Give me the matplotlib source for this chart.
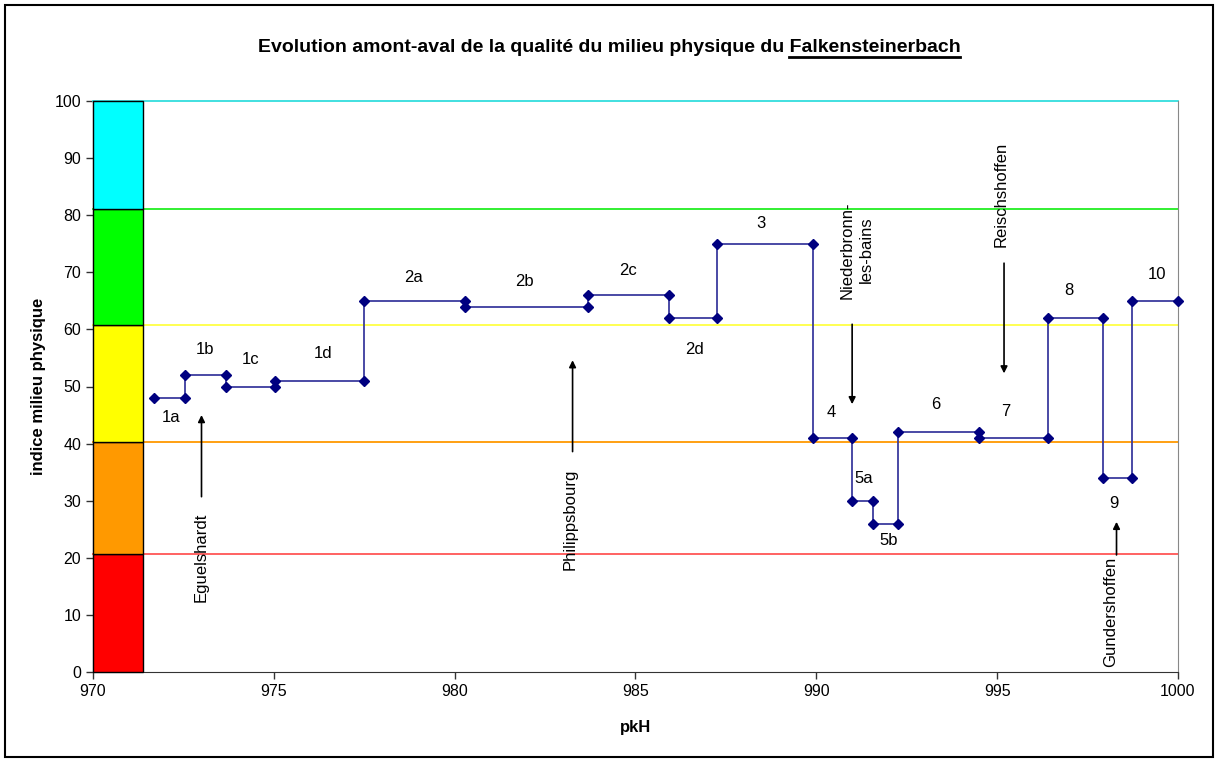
import matplotlib
matplotlib.use("Agg")
import matplotlib.pyplot as plt
from matplotlib.patches import Rectangle
from matplotlib.lines import Line2D

plt.rcParams['font.family'] = ['Liberation Sans', 'DejaVu Sans']

# Data
pk = [971.7, 972.55, 972.55, 973.68, 973.68, 975.03, 975.03, 977.5, 977.5, 980.28,
      980.28, 983.7, 983.7, 985.93, 985.93, 987.24, 987.24, 989.92, 989.92, 990.98,
      990.98, 991.56, 991.56, 992.27, 992.27, 994.5, 994.5, 996.4, 996.4, 997.92,
      997.92, 998.72, 998.72, 1000.0]
indice = [48, 48, 52, 52, 50, 50, 51, 51, 65, 65, 64, 64, 66, 66, 62, 62, 75, 75, 41, 41,
          30, 30, 26, 26, 42, 42, 41, 41, 62, 62, 34, 34, 65, 65]

class_bounds = [0, 20.6, 40.2, 60.8, 81.1, 100]
class_colors = ['#FF0000', '#FF9900', '#FFFF00', '#00FF00', '#00FFFF']
line_colors = ['#FF5555', '#FF9900', '#FFFF44', '#22EE22', '#33DDDD']

seg_labels = ['1a', '1b', '1c', '1d', '2a', '2b', '2c', '2d', '3', '4', '5a', '5b',
              '6', '7', '8', '9', '10']
seg_lx = [972.15, 973.1, 974.37, 976.35, 978.86, 981.93, 984.78, 986.63, 988.47,
          990.40, 991.32, 991.99, 993.3, 995.24, 996.99, 998.24, 999.41]
seg_ly = [44.6, 56.5, 54.8, 55.8, 69.1, 68.4, 70.4, 56.5, 78.6, 45.5, 33.9, 23.1,
          46.9, 45.7, 66.9, 29.5, 69.7]

towns = ['Eguelshardt', 'Philippsbourg', 'Niederbronn-\nles-bains', 'Reischshoffen', 'Gundershoffen']
town_tx = [972.98, 983.19, 991.12, 995.12, 998.15]
town_ty = [12.3, 17.9, 73.9, 74.4, 0.8]
town_va = ['bottom', 'bottom', 'center', 'bottom', 'bottom']
arrow_x = [973.0, 983.26, 990.99, 995.19, 998.3]
arrow_from = [30.7, 38.6, 60.9, 71.6, 20.5]
arrow_to = [45.0, 54.6, 46.9, 52.3, 26.3]

fig = plt.figure(figsize=(12.18, 7.62), dpi=100)
ax = fig.add_axes([93/1218, 90/762, (1178-93)/1218, (672-101)/762])

# outer chart border
fig.patches.append(Rectangle((5/1218, 5/762), 1208/1218, 752/762, transform=fig.transFigure,
                             fill=False, edgecolor='black', linewidth=1.5))

ax.set_xlim(970, 1000)
ax.set_ylim(0, 100)

# class lines
for b, c in zip(class_bounds[1:], line_colors):
    ax.axhline(b, color=c, linewidth=1.3, zorder=2.5, clip_on=False)

# colour scale bar
for i in range(5):
    ax.add_patch(Rectangle((970, class_bounds[i]), 1.38, class_bounds[i+1]-class_bounds[i],
                           facecolor=class_colors[i], edgecolor='black', linewidth=1.0, zorder=3,
                           clip_on=False))

ax.plot(pk, indice, color='#3B3B9E', linewidth=1.3, marker='D', markersize=5,
        markerfacecolor='#000080', markeredgecolor='#000080', zorder=4, clip_on=False)

for s, x, y in zip(seg_labels, seg_lx, seg_ly):
    ax.text(x, y, s, ha='center', va='center', fontsize=12)

for t, x, y, va, ax0, y0, y1 in zip(towns, town_tx, town_ty, town_va, arrow_x, arrow_from, arrow_to):
    ax.text(x, y, t, rotation=90, ha='center', va=va, fontsize=12,
            multialignment='center', linespacing=1.3)
    ax.annotate('', xy=(ax0, y1), xytext=(ax0, y0),
                arrowprops=dict(arrowstyle='-|>', color='black', lw=1.2,
                                mutation_scale=10, shrinkA=0, shrinkB=0))

ax.set_xticks([970, 975, 980, 985, 990, 995, 1000])
ax.set_yticks(range(0, 101, 10))
ax.tick_params(direction='out', length=5, labelsize=11.5, width=1, color='#333333')
ax.spines['top'].set_visible(False)
ax.spines['right'].set_color('#888888')
ax.spines['left'].set_color('#333333')
ax.spines['bottom'].set_color('#333333')

ax.set_xlabel('pkH', fontsize=12, fontweight='bold', labelpad=15)
ax.set_ylabel('indice milieu physique', fontsize=12, fontweight='bold', labelpad=6)

title = fig.text(609/1218, 1 - 47/762, 'Evolution amont-aval de la qualité du milieu physique du Falkensteinerbach',
                 ha='center', va='center', fontsize=14, fontweight='bold')
fig.canvas.draw()
r = fig.canvas.get_renderer()
bb = title.get_window_extent(r)
tmp = fig.text(0, 0, 'Falkensteinerbach', fontsize=14, fontweight='bold')
wb = tmp.get_window_extent(r)
tmp.remove()
x0 = (bb.x1 - wb.width) / 1218
x1 = bb.x1 / 1218
yl = (bb.y0 - 1) / 762
fig.lines.append(Line2D([x0, x1], [yl, yl], transform=fig.transFigure, color='black', linewidth=2))

fig.savefig('out.png', dpi=100)
